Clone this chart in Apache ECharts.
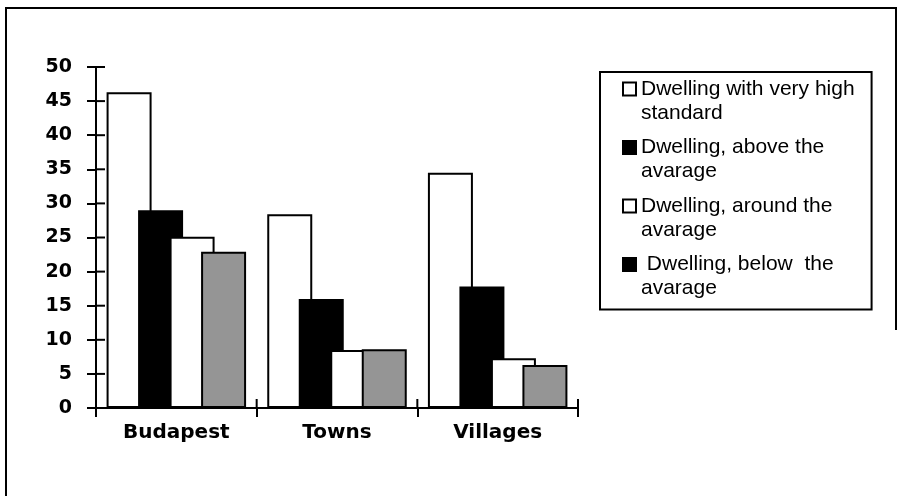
<!DOCTYPE html>
<html>
<head>
<meta charset="utf-8">
<script src="https://cdn.jsdelivr.net/npm/echarts@6/dist/echarts.min.js"></script>
<style>
html,body{margin:0;padding:0;background:#fff;}
#c{width:899px;height:496px;}
</style>
</head>
<body>
<div id="c"></div>
<script>
const categories = ['Budapest', 'Towns', 'Villages'];
const seriesNames = [
  'Dwelling with very high standard',
  'Dwelling, above the avarage',
  'Dwelling, around the avarage',
  ' Dwelling, below  the avarage'
];
const legendLabels = [
  'Dwelling with very high\nstandard',
  'Dwelling, above the\navarage',
  'Dwelling, around the\navarage',
  ' Dwelling, below  the\navarage'
];
const veryHigh = [46.3, 28.4, 34.5];
const aboveAvg = [29.0, 16.0, 17.8];
const aroundAvg = [25.1, 8.5, 7.3];
const belowAvg = [22.9, 8.6, 6.3];
const yTicks = [0, 5, 10, 15, 20, 25, 30, 35, 40, 45, 50];

const seriesData = [veryHigh, aboveAvg, aroundAvg, belowAvg];
const fills = ['#ffffff', '#000000', '#ffffff', '#959595'];
const legendFills = ['#ffffff', '#000000', '#ffffff', '#000000'];

const chart = echarts.init(document.getElementById('c'), null, {renderer: 'canvas'});

const GL = 96, GR = 321, GT = 67, GB = 88;
const TICK = 9;
const tickStyle = {color: '#000', width: 2};

const frame = {type: 'polyline', silent: true, shape: {points: [[6, 520], [6, 8], [896, 8], [896, 330]]},
  style: {stroke: '#000', lineWidth: 2, fill: null}};

const option = {
  backgroundColor: '#ffffff',
  animation: false,
  grid: {left: GL, right: GR, top: GT, bottom: GB, containLabel: false},
  xAxis: {
    type: 'category', data: categories, boundaryGap: true,
    axisLine: {show: true, lineStyle: {color: '#000', width: 2}},
    axisTick: {show: true, inside: false, length: TICK, lineStyle: tickStyle},
    axisLabel: {color: '#000', fontFamily: 'DejaVu Sans', fontWeight: 'bold', fontSize: 20, margin: 15},
    splitLine: {show: false}
  },
  yAxis: {
    type: 'value', min: yTicks[0], max: yTicks[yTicks.length - 1], interval: 5,
    axisLine: {show: true, lineStyle: {color: '#000', width: 2}},
    axisTick: {show: true, inside: false, length: TICK, lineStyle: tickStyle},
    axisLabel: {color: '#000', fontFamily: 'DejaVu Sans', fontWeight: 'bold', fontSize: 19, margin: 24},
    splitLine: {show: false}
  },
  legend: {
    left: 600, top: 72,
    orient: 'vertical',
    padding: [5, 17, 9, 22],
    borderColor: '#000', borderWidth: 2,
    itemWidth: 13, itemHeight: 44, itemGap: 10.5,
    icon: 'path://M0,0 M0,44 M0,3.5H13V16.5H0Z',
    formatter: function (name) { return legendLabels[seriesNames.indexOf(name)]; },
    textStyle: {color: '#000', fontFamily: 'Liberation Sans', fontSize: 21, lineHeight: 24},
    data: seriesNames.map(function (n, i) {
      return {name: n, itemStyle: {color: legendFills[i], borderColor: '#000', borderWidth: 2}};
    })
  },
  graphic: [frame],
  series: seriesData.map(function (d, i) {
    return {
      name: seriesNames[i], type: 'bar',
      data: d, barWidth: 45, barGap: '-30%',
      itemStyle: {color: fills[i], borderColor: '#000', borderWidth: 2}
    };
  })
};
chart.setOption(option);

// Inner halves of the crossing tick marks, positioned through the library's own scales.
const x0 = chart.convertToPixel({xAxisIndex: 0}, categories[0]);
const x1 = chart.convertToPixel({xAxisIndex: 0}, categories[1]);
const step = x1 - x0;
const axisY = chart.convertToPixel({yAxisIndex: 0}, yTicks[0]);
const axisX = x0 - step / 2;
const inner = [];
yTicks.forEach(function (v) {
  const y = chart.convertToPixel({yAxisIndex: 0}, v);
  inner.push({type: 'line', silent: true, shape: {x1: axisX, y1: y, x2: axisX + TICK, y2: y},
    style: {stroke: '#000', lineWidth: 2}});
});
for (let i = 0; i <= categories.length; i++) {
  const bx = axisX + i * step;
  inner.push({type: 'line', silent: true, shape: {x1: bx, y1: axisY, x2: bx, y2: axisY - TICK},
    style: {stroke: '#000', lineWidth: 2}});
}
chart.setOption({graphic: [frame].concat(inner)});
</script>
</body>
</html>
